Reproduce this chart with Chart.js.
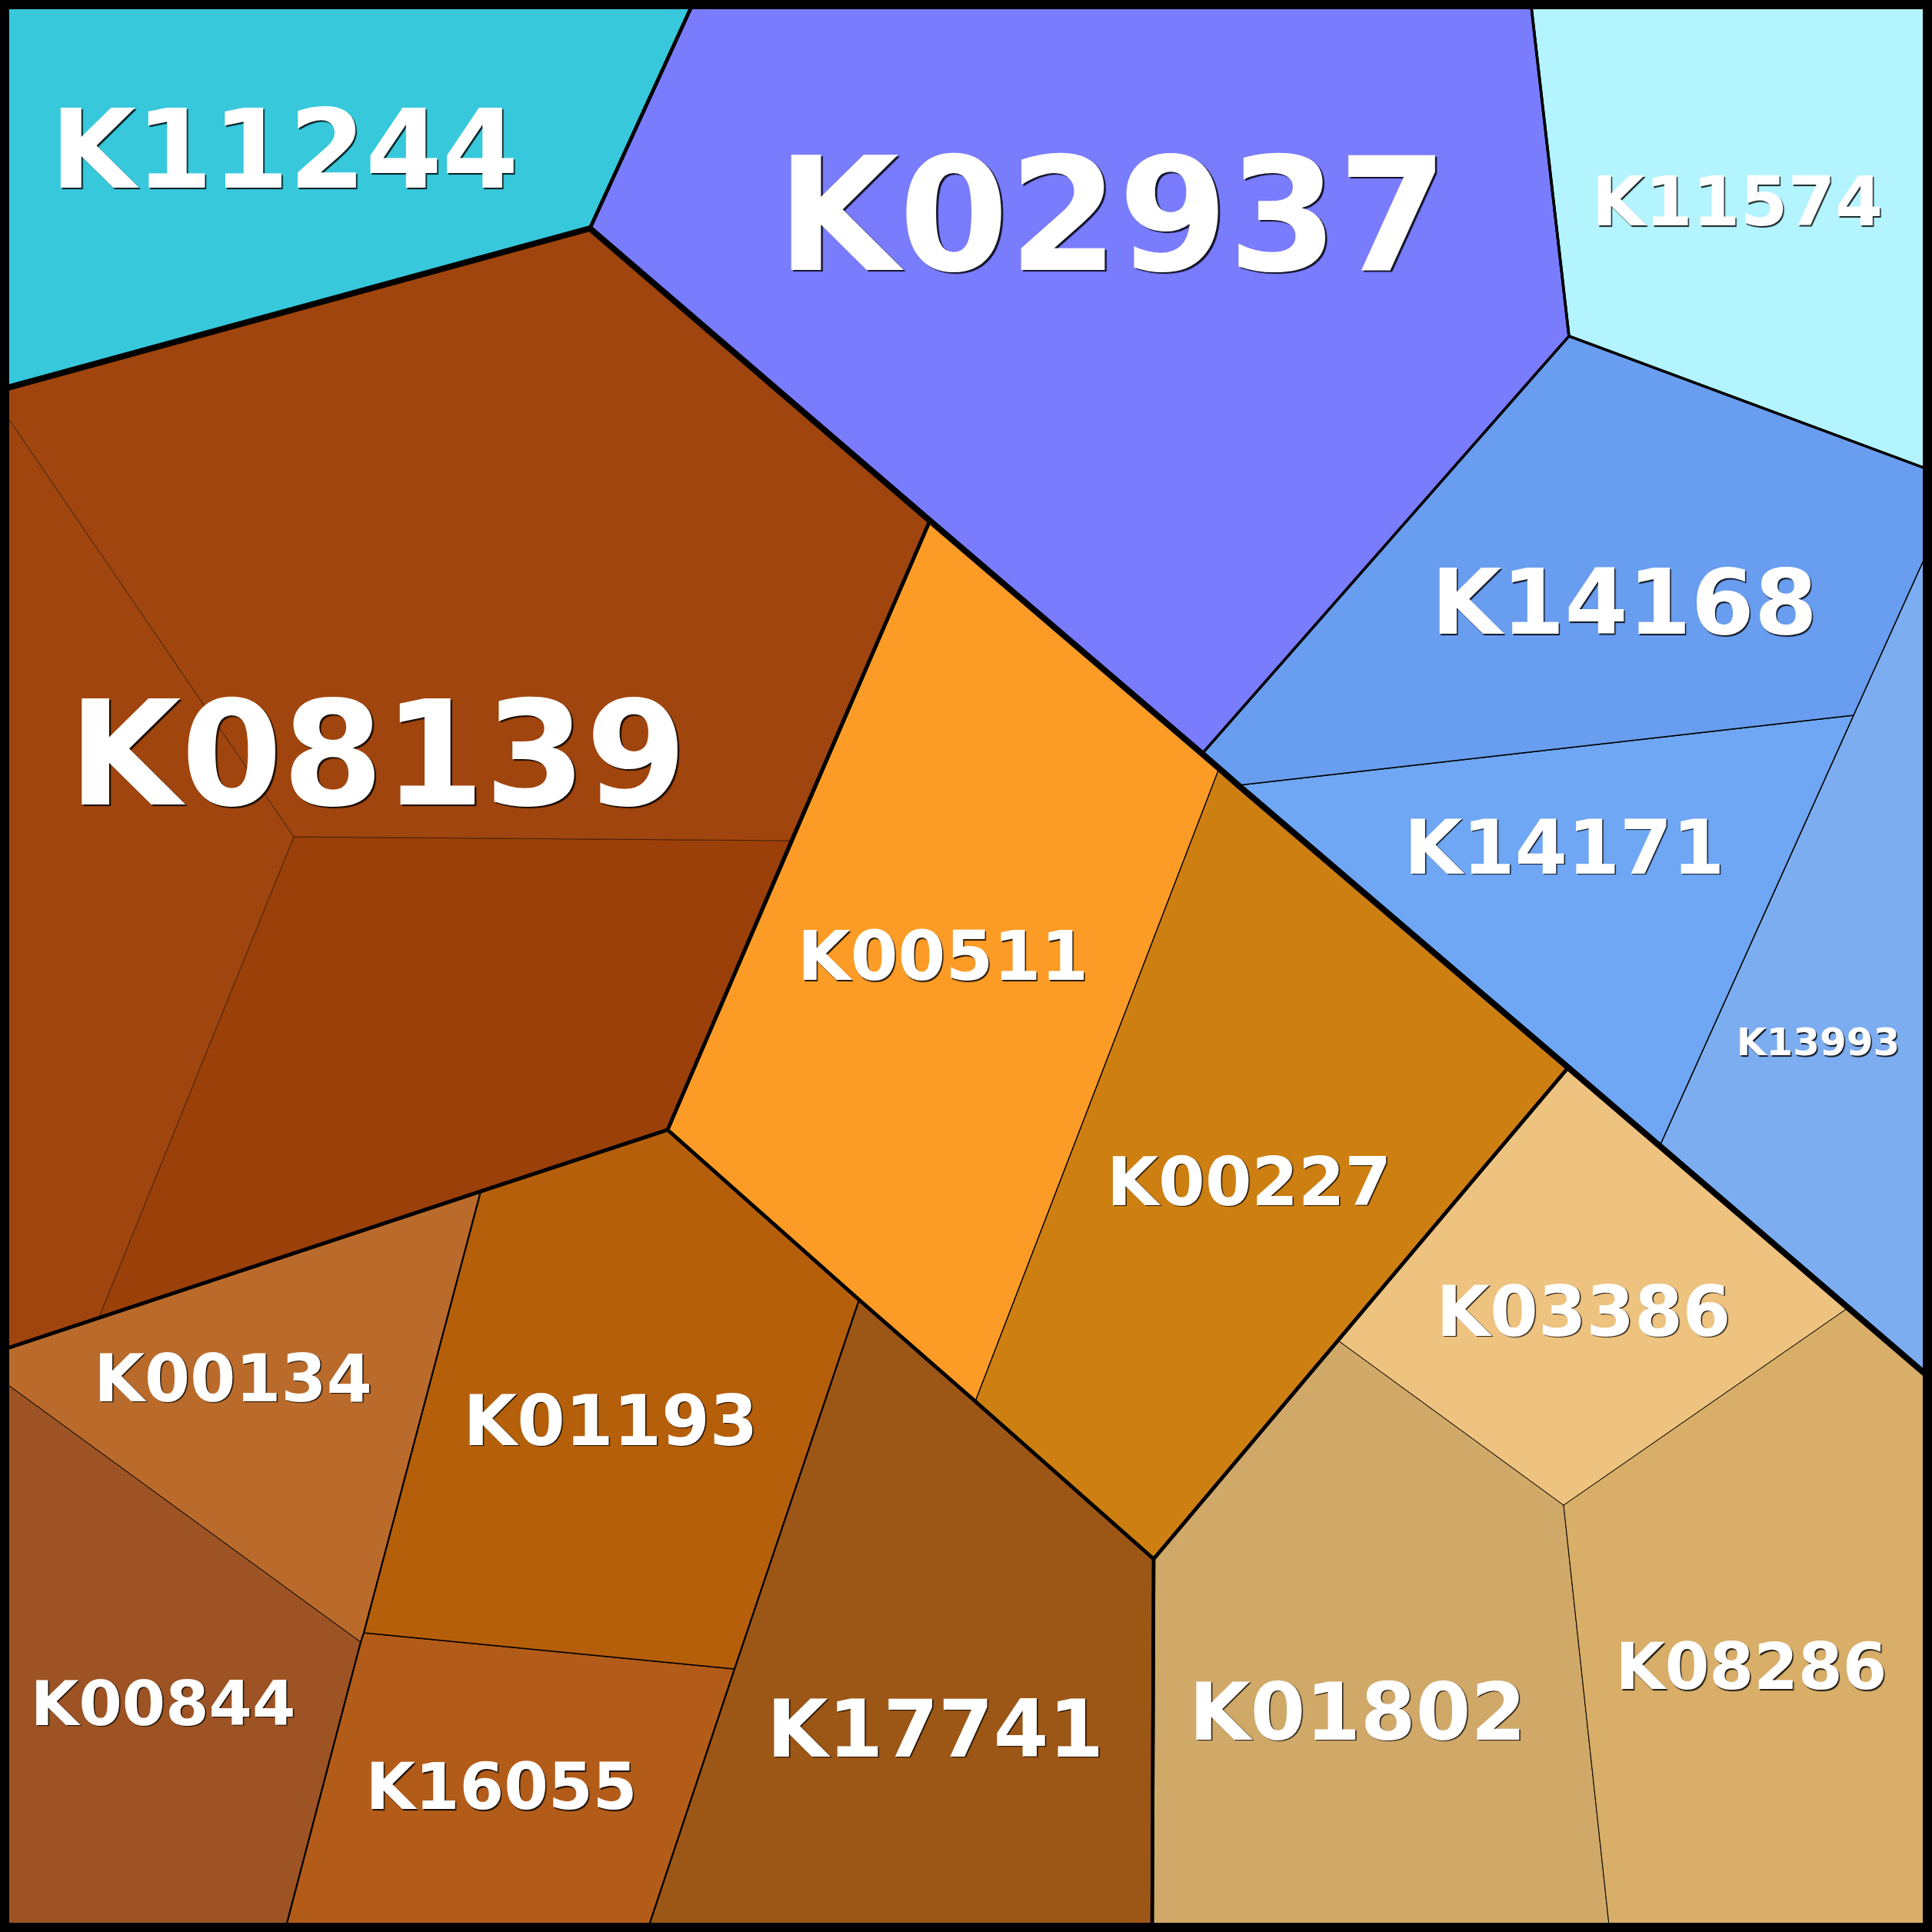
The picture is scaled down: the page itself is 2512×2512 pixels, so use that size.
<!DOCTYPE html>
<html>
<head>
<meta charset="utf-8">
<script src="https://cdn.jsdelivr.net/npm/chart.js@4.4.1/dist/chart.umd.min.js"></script>
<style>
html,body{margin:0;padding:0;background:#ffffff;overflow:hidden}
canvas{display:block}
</style>
</head>
<body>
<canvas id="chart" width="2512" height="2512"></canvas>
<script>
// ---- Voronoi treemap data (units = pixels of the 2512 square) ----
const vertexNames = ['P00','PTR','PBR','PBL','A','B','C','D','E','F','G','H','I','J','K','M','N','XT','EE','O','P','Q','R','S','T','U','V','W','X','Y','Z1','Z2','AA','BB','CC','DD','FF','GG','HH','II'];
const vertexX =     [0,   2512, 2512, 0,   903, 767, 0,   1990,2040,2512,1563,2512,1610,2410,2158,2512,1209,1585,2039,868, 0,   0,   382, 1029,129, 1117,1500,1498,1268,625, 473, 469, 370, 0,   955, 841, 2402,2033,1740,2093];
const vertexY =     [0,   0,    2512, 2512,0,   297, 507, 0,   437, 612, 980, 704, 1021,930, 1490,1794,677, 999, 1388,1469,1756,528, 1088,1093,1712,1690,2027,2512,1822,1549,2123,2135,2512,1793,2170,2512,1701,1957,1743,2512];

const cellNames  = ['K11244','K02937','K11574','K14168','K14171','K13993','K08139','K00511','K00227','K00134','K00844','K01193','K16055','K17741','K03386','K08286','K01802'];
const cellGroups = ['K11244','blue','blue','blue','blue','blue','K08139','orange','orange','lowerBrown','lowerBrown','lowerBrown','lowerBrown','lowerBrown','tan','tan','tan'];
const cellRings = [
  [['P00','A','B','C']],
  [['A','D','E','G','N','B']],
  [['D','PTR','F','E']],
  [['E','F','H','J','I','XT','G']],
  [['I','J','K','EE']],
  [['H','M','K','J']],
  [['C','B','N','S','R','Q'],['Q','R','T','P'],['R','S','O','T']],
  [['N','G','XT','X','U','O']],
  [['XT','I','EE','HH','V','X']],
  [['P','Y','Z1','Z2','BB']],
  [['BB','Z2','AA','PBL']],
  [['Y','O','U','CC','Z1']],
  [['Z1','CC','DD','AA','Z2']],
  [['U','X','V','W','DD','CC']],
  [['EE','K','FF','GG','HH']],
  [['FF','M','PBR','II','GG']],
  [['HH','GG','II','W','V']]
];

const groupNames = ['K11244','blue','K08139','lowerBrown','orange','tan'];
const groupRings = [
  ['P00','A','B','C'],
  ['A','PTR','M','K','EE','I','XT','G','N','B'],
  ['C','B','N','S','O','Y','P'],
  ['P','Y','O','U','X','V','W','PBL'],
  ['N','G','XT','I','EE','V','X','U','O'],
  ['EE','K','M','PBR','W','V']
];
const subgroupNames = ['K02937','K11574','K00134+K00844','K17741'];
const subgroupRings = [
  ['A','D','E','G','N','B'],
  ['D','PTR','F','E'],
  ['P','Y','Z1','Z2','AA','PBL'],
  ['U','X','V','W','DD','CC']
];
const dividerPath = ['C','B','N','G','XT','I','EE','K','M'];
const framePath = ['P00','PTR','PBR','PBL'];

// ---- styles ----
const cellStyle = {
  K11244:{fill:['#37C8DC'], line:1,   size:143, lx:370,  ly:192},
  K02937:{fill:['#797CFD'], line:1,   size:205, lx:1446, ly:276},
  K11574:{fill:['#B3F4FE'], line:1,   size:89,  lx:2259, ly:261},
  K14168:{fill:['#699DEF'], line:1.5, size:118, lx:2112, ly:781},
  K14171:{fill:['#6FA7F4'], line:1.5, size:98,  lx:2034, ly:1100},
  K13993:{fill:['#7CADF0'], line:1.5, size:50,  lx:2364, ly:1354},
  K08139:{fill:['#A0450D','#A0450D','#9B4008'], line:0.8, lineColor:'rgba(20,8,0,0.75)', size:189, lx:491, ly:977},
  K00511:{fill:['#FC9C26'], line:1.3, size:89,  lx:1226, ly:1242},
  K00227:{fill:['#CD7F11'], line:1.3, size:87,  lx:1624, ly:1535},
  K00134:{fill:['#BA6B2B'], line:1,   size:85,  lx:303,  ly:1791},
  K00844:{fill:['#9D5323'], line:1,   size:81,  lx:212,  ly:2213},
  K01193:{fill:['#B65F0A'], line:1.5, size:90,  lx:794,  ly:1846},
  K16055:{fill:['#B35C19'], line:1.5, size:83,  lx:652,  ly:2322},
  K17741:{fill:['#9C5616'], line:1.5, size:103, lx:1216, ly:2246},
  K03386:{fill:['#EEC37F'], line:1,   size:90,  lx:2059, ly:1704},
  K08286:{fill:['#D8AE68'], line:1,   size:83,  lx:2277, ly:2166},
  K01802:{fill:['#D0A868'], line:1,   size:103, lx:1765, ly:2224}
};
const groupLineWidth = 4.5;
const subgroupLineWidth = {K02937:3.5, K11574:3.5, 'K00134+K00844':2.3, K17741:2.3};
const dividerWidth = 8;
const frameWidth = 24;

// ---- build datasets ----
const vIndex = {};
vertexNames.forEach((n,i)=>vIndex[n]=i);
const toPts = (names, close) => {
  const a = names.map(n => ({x: vertexX[vIndex[n]], y: vertexY[vIndex[n]]}));
  if (close) a.push({...a[0]});
  return a;
};
const base = {showLine:true, pointRadius:0, pointHoverRadius:0, tension:0, borderJoinStyle:'round', borderCapStyle:'round'};
const datasets = [];
cellNames.forEach((name, i) => {
  const st = cellStyle[name];
  cellRings[i].forEach((r, k) => {
    datasets.push({...base, label:name, data:toPts(r,true), fill:'shape',
      backgroundColor: st.fill[Math.min(k, st.fill.length-1)],
      borderColor: st.lineColor || '#000000', borderWidth: st.line, order: 50});
  });
});
subgroupNames.forEach((g,i) => {
  datasets.push({...base, label:g, data:toPts(subgroupRings[i],true), fill:false,
    borderColor:'#000000', borderWidth: subgroupLineWidth[g], order: 30});
});
groupNames.forEach((g,i) => {
  datasets.push({...base, label:g, data:toPts(groupRings[i],true), fill:false,
    borderColor:'#000000', borderWidth: groupLineWidth, order: 20});
});
datasets.push({...base, label:'divider', data:toPts(dividerPath,false), fill:false,
  borderColor:'#000000', borderWidth: dividerWidth, order: 10});
datasets.push({...base, label:'frame', data:toPts(framePath,true), fill:false,
  borderColor:'#000000', borderWidth: frameWidth, borderJoinStyle:'miter', order: 0, clip:false});

// ---- labels plugin ----
const labelPlugin = {
  id:'cellLabels',
  afterDatasetsDraw(chart) {
    const {ctx, scales:{x, y}} = chart;
    ctx.save();
    ctx.textAlign = 'center';
    ctx.textBaseline = 'alphabetic';
    cellNames.forEach(name => {
      const st = cellStyle[name];
      const px = x.getPixelForValue(st.lx);
      const py = y.getPixelForValue(st.ly) + 0.3645 * st.size;
      ctx.font = 'bold ' + st.size + 'px "DejaVu Sans"';
      const off = Math.max(1.5, st.size / 80);
      ctx.shadowColor = 'rgba(0,0,0,0.85)';
      ctx.shadowOffsetX = off;
      ctx.shadowOffsetY = off;
      ctx.shadowBlur = 1;
      ctx.fillStyle = '#ffffff';
      ctx.fillText(name, px, py);
    });
    ctx.restore();
  }
};

new Chart(document.getElementById('chart'), {
  type:'scatter',
  data:{datasets},
  options:{
    responsive:false,
    devicePixelRatio:1,
    animation:false,
    events:[],
    layout:{padding:0},
    plugins:{legend:{display:false}, tooltip:{enabled:false}},
    scales:{
      x:{type:'linear', min:0, max:2512, display:false},
      y:{type:'linear', min:0, max:2512, reverse:true, display:false}
    }
  },
  plugins:[labelPlugin]
});
</script>
</body>
</html>
